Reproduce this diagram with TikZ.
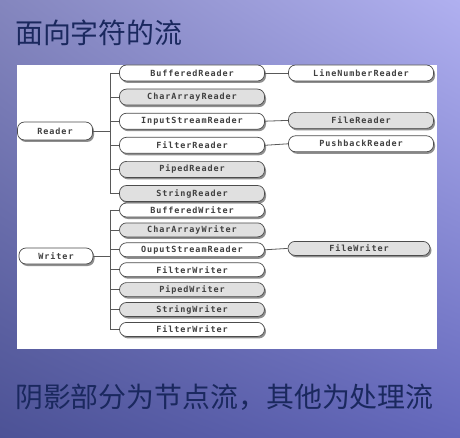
\documentclass[tikz,border=0pt]{standalone}
\usepackage{fontspec}
\newfontfamily\cjk{Noto Sans CJK SC}
\newfontfamily\clsfont[LetterSpace=11]{DejaVu Sans Mono Bold}
\usetikzlibrary{positioning, shadows, shadings}
\definecolor{titleblue}{HTML}{1A285E}
\definecolor{bgul}{HTML}{8486BE}
\definecolor{bgur}{HTML}{B0B0F0}
\definecolor{bgll}{HTML}{4C5296}
\definecolor{bglr}{HTML}{6468BC}
\tikzset{
  cls/.style     = {rectangle, draw=black!70, line width=0.7bp, rounded corners=7bp,
                    fill=white, minimum width=145bp, minimum height=16bp, inner sep=0pt,
                    font=\clsfont\fontsize{8.5}{10}\selectfont, text=black!75,
                    drop shadow={shadow xshift=1.5bp, shadow yshift=-2bp,
                                 fill=black!55, opacity=.8}},
  nstream/.style = {cls, fill=black!12},
  wcls/.style    = {cls, minimum height=14bp},
  wstream/.style = {nstream, minimum height=14bp},
  bus/.style     = {draw=black!65, line width=0.8bp},
  heading/.style = {anchor=west, inner sep=0pt, text=titleblue,
                    font=\cjk\fontsize{28}{30}\selectfont},
}

\begin{document}
\begin{tikzpicture}[x=1bp, y=-1bp]
  \useasboundingbox (0,0) rectangle (460,438);
  % background and white panel
  \shade[upper left=bgul, upper right=bgur, lower left=bgll, lower right=bglr]
    (0,0) rectangle (460,438);
  \fill[white] (17,65) rectangle (437,349);
  \node[heading] (title) at (15,33) {面向字符的流};
  \node[heading] (note)  at (15,397) {阴影部分为节点流，其他为处理流};

  % Reader family
  \node[cls, minimum width=75bp, minimum height=18bp] (rd) at (55,131) {Reader};
  \begin{scope}[node distance=7.4bp]
    \node[cls] (br) at (192,73) {BufferedReader};
    \node[nstream, below=of br]  (car) {CharArrayReader};
    \node[cls,     below=of car] (isr) {InputStreamReader};
    \node[cls,     below=of isr] (fir) {FilterReader};
    \node[nstream, below=of fir] (pr)  {PipedReader};
    \node[nstream, below=of pr]  (sr)  {StringReader};
  \end{scope}
  \node[cls]     (lnr) at (361,73)      {LineNumberReader};
  \node[nstream] (fr)  at (361 ,120.4)  {FileReader};
  \node[cls]     (pbr) at (361,143.8)   {PushbackReader};

  % Writer family
  \node[cls, minimum width=74bp] (wr) at (56,256) {Writer};
  \begin{scope}[node distance=5.2bp]
    \node[wcls] (bw) at (192,210) {BufferedWriter};
    \node[wstream, below=of bw]  (caw) {CharArrayWriter};
    \node[wcls,    below=of caw] (osw) {OuputStreamReader};
    \node[wcls,    below=of osw] (fiw) {FilterWriter};
    \node[wstream, below=of fiw] (pw)  {PipedWriter};
    \node[wstream, below=of pw]  (sw)  {StringWriter};
    \node[wcls,    below=of sw]  (fiw2) {FilterWriter};
  \end{scope}
  \node[wstream, minimum width=142bp] (fw) at (359,248.4) {FileWriter};

  % connectors
  \coordinate (rbus) at (110,131);
  \coordinate (wbus) at (110,256);
  \draw[bus] (rd.east) -- (rbus);
  \draw[bus] (rbus |- br.west) -- (rbus |- sr.west);
  \foreach \n in {br,car,isr,fir,pr,sr}
    \draw[bus] (rbus |- \n.west) -- (\n.west);
  \draw[bus] (wr.east) -- (wbus);
  \draw[bus] (wbus |- bw.west) -- (wbus |- fiw2.west);
  \foreach \n in {bw,caw,osw,fiw,pw,sw,fiw2}
    \draw[bus] (wbus |- \n.west) -- (\n.west);
  \foreach \a/\b in {br/lnr,isr/fr,fir/pbr,osw/fw}
    \draw[bus] (\a.east) -- (\b.west);
\end{tikzpicture}
\end{document}
